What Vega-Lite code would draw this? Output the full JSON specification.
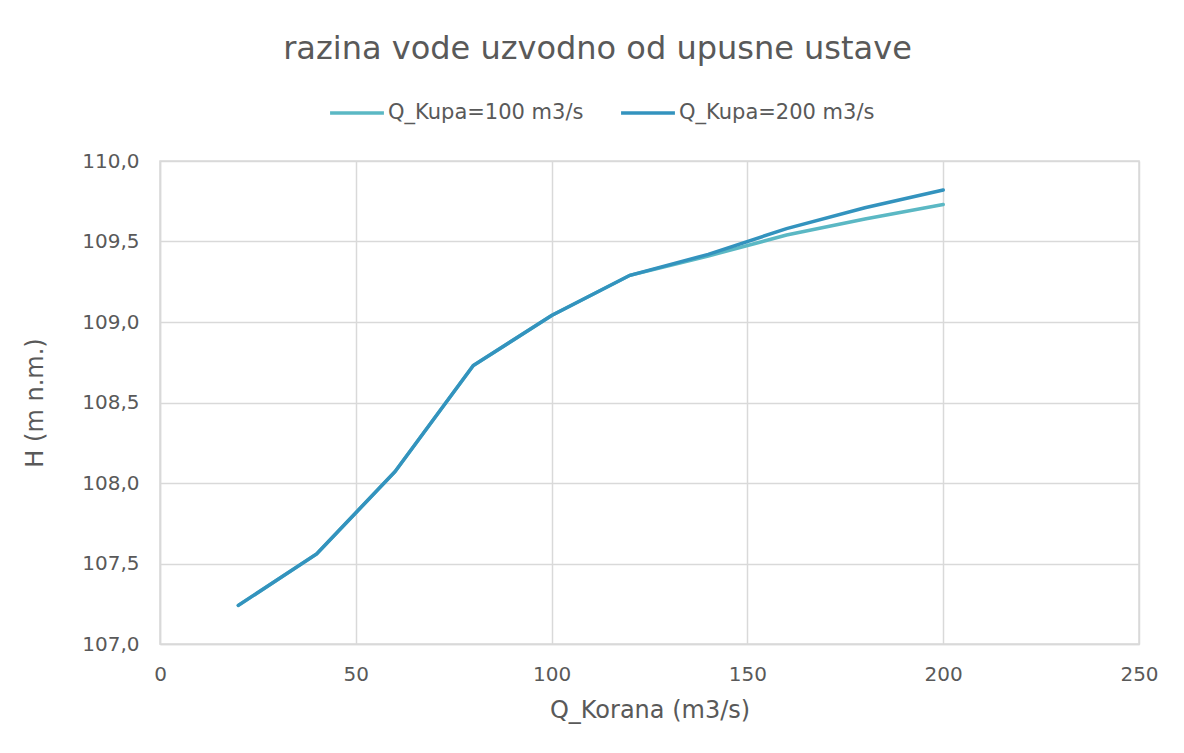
{
  "$schema": "https://vega.github.io/schema/vega-lite/v6.json",
  "autosize": "none",
  "width": 979,
  "height": 483,
  "padding": {"left": 160, "top": 161, "right": 45, "bottom": 109},
  "background": "white",
  "title": {
    "text": "razina vode uzvodno od upusne ustave",
    "anchor": "middle",
    "frame": "group",
    "offset": 18,
    "dx": -52,
    "font": "DejaVu Sans",
    "fontSize": 32,
    "fontWeight": "normal",
    "color": "#595959"
  },
  "data": {
    "values": [
      {"Q": 20, "H": 107.24, "s": "Q_Kupa=100 m3/s"},
      {"Q": 40, "H": 107.56, "s": "Q_Kupa=100 m3/s"},
      {"Q": 60, "H": 108.07, "s": "Q_Kupa=100 m3/s"},
      {"Q": 80, "H": 108.73, "s": "Q_Kupa=100 m3/s"},
      {"Q": 100, "H": 109.04, "s": "Q_Kupa=100 m3/s"},
      {"Q": 120, "H": 109.29, "s": "Q_Kupa=100 m3/s"},
      {"Q": 140, "H": 109.41, "s": "Q_Kupa=100 m3/s"},
      {"Q": 160, "H": 109.54, "s": "Q_Kupa=100 m3/s"},
      {"Q": 180, "H": 109.64, "s": "Q_Kupa=100 m3/s"},
      {"Q": 200, "H": 109.73, "s": "Q_Kupa=100 m3/s"},
      {"Q": 20, "H": 107.24, "s": "Q_Kupa=200 m3/s"},
      {"Q": 40, "H": 107.56, "s": "Q_Kupa=200 m3/s"},
      {"Q": 60, "H": 108.07, "s": "Q_Kupa=200 m3/s"},
      {"Q": 80, "H": 108.73, "s": "Q_Kupa=200 m3/s"},
      {"Q": 100, "H": 109.04, "s": "Q_Kupa=200 m3/s"},
      {"Q": 120, "H": 109.29, "s": "Q_Kupa=200 m3/s"},
      {"Q": 140, "H": 109.42, "s": "Q_Kupa=200 m3/s"},
      {"Q": 160, "H": 109.58, "s": "Q_Kupa=200 m3/s"},
      {"Q": 180, "H": 109.71, "s": "Q_Kupa=200 m3/s"},
      {"Q": 200, "H": 109.82, "s": "Q_Kupa=200 m3/s"}
    ]
  },
  "mark": {"type": "line", "strokeWidth": 3.5, "strokeCap": "round"},
  "encoding": {
    "x": {
      "field": "Q", "type": "quantitative",
      "scale": {"domain": [0, 250], "nice": false},
      "axis": {
        "title": "Q_Korana (m3/s)", "values": [0, 50, 100, 150, 200, 250],
        "grid": true, "gridColor": "#d9d9d9", "gridWidth": 1.5,
        "domainColor": "#d9d9d9", "domainWidth": 1.5, "ticks": false, "labelFlush": false,
        "labelFont": "DejaVu Sans", "labelFontSize": 20, "labelColor": "#595959", "labelPadding": 20,
        "titleFont": "DejaVu Sans", "titleFontSize": 24, "titleFontWeight": "normal", "titleColor": "#595959", "titlePadding": 14
      }
    },
    "y": {
      "field": "H", "type": "quantitative",
      "scale": {"domain": [107, 110], "nice": false, "zero": false},
      "axis": {
        "title": "H (m n.m.)", "values": [107, 107.5, 108, 108.5, 109, 109.5, 110],
        "labelExpr": "replace(format(datum.value, '.1f'), '.', ',')",
        "grid": true, "gridColor": "#d9d9d9", "gridWidth": 1.5,
        "domainColor": "#d9d9d9", "domainWidth": 1.5, "ticks": false, "labelFlush": false,
        "labelFont": "DejaVu Sans", "labelFontSize": 20, "labelColor": "#595959", "labelPadding": 21,
        "titleFont": "DejaVu Sans", "titleFontSize": 24, "titleFontWeight": "normal", "titleColor": "#595959", "titlePadding": 34
      }
    },
    "color": {
      "field": "s", "type": "nominal",
      "scale": {"domain": ["Q_Kupa=100 m3/s", "Q_Kupa=200 m3/s"], "range": ["#5bb8c4", "#3393be"]},
      "legend": {
        "title": null, "orient": "none", "direction": "horizontal",
        "legendX": 168, "legendY": -77,
        "symbolType": "stroke", "symbolStrokeWidth": 3.5, "symbolSize": 2900,
        "labelFont": "DejaVu Sans", "labelFontSize": 21, "labelColor": "#595959", "labelLimit": 0,
        "columnPadding": 30, "labelOffset": 2
      }
    }
  },
  "config": {"view": {"stroke": "#d9d9d9", "strokeWidth": 1.5}}
}
